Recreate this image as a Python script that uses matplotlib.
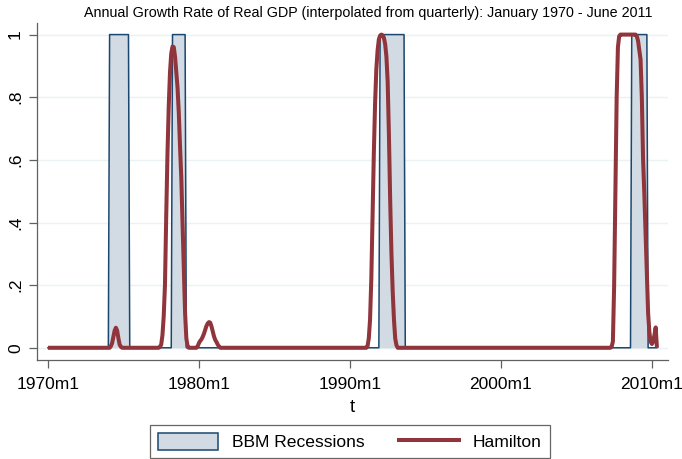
import numpy as np
import matplotlib
matplotlib.use("Agg")
import matplotlib.pyplot as plt
from matplotlib.patches import Patch
from matplotlib.lines import Line2D

plt.rcParams['font.family'] = ['Liberation Sans', 'DejaVu Sans']

# ---- data (months counted from 1970m1 = 0) ----
n_months = 485  # 1970m1 .. 2010m5

# BBM recession periods (start month, end month)
rec_start = [49, 99, 264, 464]
rec_end = [64, 109, 283, 476]

# Hamilton smoothed recession probability: non-zero stretches (first month, values)
ham_1974_start = 50
ham_1974 = [0.005, 0.015, 0.035, 0.055, 0.064, 0.055, 0.03, 0.01, 0.003]

ham_1978_start = 89
ham_1978 = [0.003, 0.01, 0.04, 0.1, 0.2, 0.42, 0.62, 0.77, 0.88, 0.94, 0.962,
            0.96, 0.93, 0.88, 0.83, 0.75, 0.64, 0.54, 0.39, 0.25, 0.11, 0.03, 0.005]

ham_1980_start = 119
ham_1980 = [0.005, 0.015, 0.022, 0.027, 0.035, 0.045, 0.058, 0.07, 0.078, 0.082,
            0.08, 0.068, 0.052, 0.036, 0.025, 0.018, 0.01, 0.004]

ham_1991_start = 254
ham_1991 = [0.005, 0.03, 0.09, 0.22, 0.42, 0.62, 0.78, 0.89, 0.95, 0.985, 0.997,
            1.0, 0.998, 0.99, 0.97, 0.93, 0.85, 0.68, 0.47, 0.3, 0.18, 0.09, 0.03, 0.008]

ham_2008_start = 448
ham_2008 = [0.003, 0.02, 0.2, 0.5, 0.8, 0.96, 0.995, 1.0, 1.0, 1.0, 1.0, 1.0, 1.0,
            1.0, 1.0, 1.0, 1.0, 1.0, 1.0, 1.0, 0.995, 0.98, 0.95, 0.92, 0.8, 0.6,
            0.49, 0.36, 0.23, 0.11, 0.05, 0.02, 0.012, 0.02, 0.04, 0.065]

tick_months = [0, 120, 240, 360, 480]
tick_labels = ["1970m1", "1980m1", "1990m1", "2000m1", "2010m1"]
ytick_vals = [0, 0.2, 0.4, 0.6, 0.8, 1.0]
ytick_labels = ["0", ".2", ".4", ".6", ".8", "1"]

# ---- build series ----
t = np.arange(n_months)
rec = np.zeros(n_months)
for s, e in zip(rec_start, rec_end):
    rec[s:e + 1] = 1.0

ham = np.zeros(n_months)
for s, vals in [(ham_1974_start, ham_1974), (ham_1978_start, ham_1978),
                (ham_1980_start, ham_1980), (ham_1991_start, ham_1991),
                (ham_2008_start, ham_2008)]:
    ham[s:s + len(vals)] = vals

# ---- style ----
red = "#90353B"
navy = "#1A476F"
fill = "#D2DBE3"
axcol = "#606060"
gridcol = "#EAF2F3"

fig = plt.figure(figsize=(6.82, 4.59), dpi=100)
ax = fig.add_axes([37 / 682, 1 - 360 / 459, (668 - 37) / 682, (360 - 23) / 459])

for yv in ytick_vals:
    ax.axhline(yv, color=gridcol, lw=1.0, zorder=0)

ax.fill_between(t, 0, rec, color=fill, lw=0, zorder=1)
ax.plot(t, rec, color=navy, lw=1.1, zorder=2)
ax.plot(t, ham, color=red, lw=2.9, zorder=3, solid_capstyle='butt')

ax.set_xlim(-8.7, 492.8)
ax.set_ylim(-0.039, 1.037)

for sp in ['top', 'right']:
    ax.spines[sp].set_visible(False)
for sp in ['left', 'bottom']:
    ax.spines[sp].set_color(axcol)
    ax.spines[sp].set_linewidth(0.9)

ax.set_xticks(tick_months)
ax.set_xticklabels(tick_labels, fontsize=12.5)
ax.set_yticks(ytick_vals)
ax.set_yticklabels(ytick_labels, fontsize=12.5, rotation=90, va='center')
ax.tick_params(axis='both', color=axcol, length=6, width=0.9, labelcolor='black')
ax.tick_params(axis='x', pad=6)
ax.tick_params(axis='y', pad=4)

ax.set_xlabel("t", fontsize=13.5, labelpad=5)
fig.text(368 / 682, 1 - 13 / 459, "Annual Growth Rate of Real GDP (interpolated from quarterly): January 1970 - June 2011",
         ha='center', va='center', fontsize=10.3)

handles = [Patch(facecolor=fill, edgecolor=navy, lw=1.1),
           Line2D([0], [0], color=red, lw=2.9)]
leg = fig.legend(handles, ["BBM Recessions", "Hamilton"], loc='lower center',
                 bbox_to_anchor=(350 / 682, 1 / 459), ncol=2, fontsize=12.6, frameon=True,
                 fancybox=False, edgecolor='#404040', handlelength=3.4, handleheight=1.1,
                 columnspacing=2.0, borderpad=0.45, handletextpad=0.8, borderaxespad=0.0)
leg.get_frame().set_linewidth(0.9)

fig.savefig("out.png", dpi=100)
